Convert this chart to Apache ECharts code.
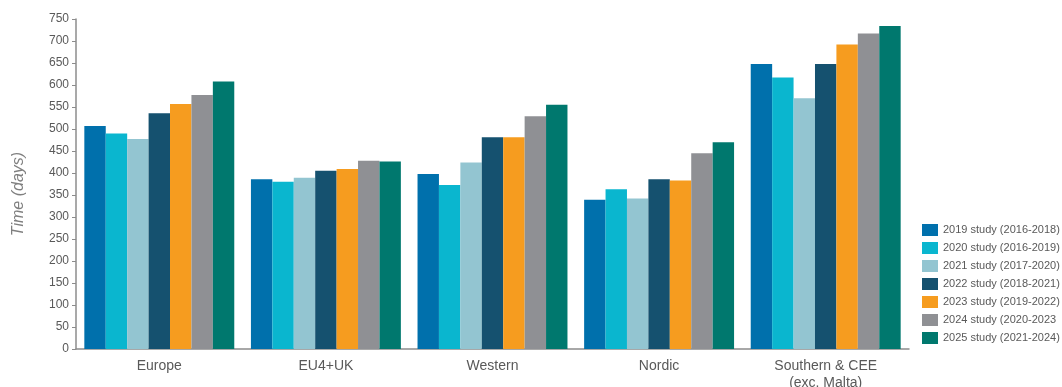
<!DOCTYPE html>
<html>
<head>
<meta charset="utf-8">
<style>
  html, body { margin: 0; padding: 0; background: #ffffff; }
  #chart { width: 1062px; height: 387px; }
</style>
<script src="https://cdn.jsdelivr.net/npm/echarts@6/dist/echarts.min.js"></script>
</head>
<body>
<div id="chart"></div>
<script>
// Regions on the x axis
const categories = ['Europe', 'EU4+UK', 'Western', 'Nordic', 'Southern & CEE\n(exc. Malta)'];

// Study editions (legend entries)
const studyNames = [
  '2019 study (2016-2018)',
  '2020 study (2016-2019)',
  '2021 study (2017-2020)',
  '2022 study (2018-2021)',
  '2023 study (2019-2022)',
  '2024 study (2020-2023',
  '2025 study (2021-2024)'
];

// Average time in days, one array per study, in region order
const study2019 = [507, 386, 398, 339, 648];
const study2020 = [490, 380, 373, 363, 617];
const study2021 = [477, 389, 424, 342, 570];
const study2022 = [536, 405, 481, 386, 648];
const study2023 = [557, 409, 481, 383, 692];
const study2024 = [577, 428, 529, 445, 717];
const study2025 = [608, 426, 555, 470, 734];

const yTicks = { min: 0, max: 750, interval: 50 };

const studyColors = ['#0070ac', '#0ab6cf', '#93c5d1', '#15516f', '#f69c1f', '#8f9094', '#00786e'];
const studyValues = [study2019, study2020, study2021, study2022, study2023, study2024, study2025];

const chart = echarts.init(document.getElementById('chart'), null, { renderer: 'canvas' });

const textColor = '#595959';
const fontFamily = '"Liberation Sans", Arial, sans-serif';

chart.setOption({
  animation: false,
  textStyle: { fontFamily: fontFamily },
  grid: { left: 76, right: 153, top: 19, bottom: 38, containLabel: false, outerBoundsMode: 'none' },
  legend: {
    orient: 'vertical',
    left: 917,
    top: 219,
    itemWidth: 16,
    itemHeight: 12,
    itemGap: 6,
    icon: 'rect',
    textStyle: { color: textColor, fontSize: 11, fontFamily: fontFamily },
    data: studyNames
  },
  xAxis: {
    type: 'category',
    data: categories,
    axisLine: { lineStyle: { color: '#8c8c8c', width: 1.5 } },
    axisTick: { show: false },
    axisLabel: { color: textColor, fontSize: 14, margin: 9, lineHeight: 17, interval: 0 }
  },
  yAxis: {
    type: 'value',
    min: yTicks.min,
    max: yTicks.max,
    interval: yTicks.interval,
    name: 'Time (days)',
    nameLocation: 'middle',
    nameGap: 49,
    nameTextStyle: { color: '#7f7f7f', fontSize: 16, fontStyle: 'italic', fontFamily: fontFamily, padding: [0, 20, 0, 0] },
    axisLine: { show: true, lineStyle: { color: '#8c8c8c', width: 1.5 } },
    axisTick: { show: true, length: 4, lineStyle: { color: '#8c8c8c' } },
    splitLine: { show: false },
    axisLabel: { color: textColor, fontSize: 12, margin: 7 }
  },
  series: studyNames.map((name, i) => ({
    name: name,
    type: 'bar',
    data: studyValues[i],
    barGap: '0%',
    barCategoryGap: '10%',
    itemStyle: { color: studyColors[i] }
  }))
});
</script>
</body>
</html>
